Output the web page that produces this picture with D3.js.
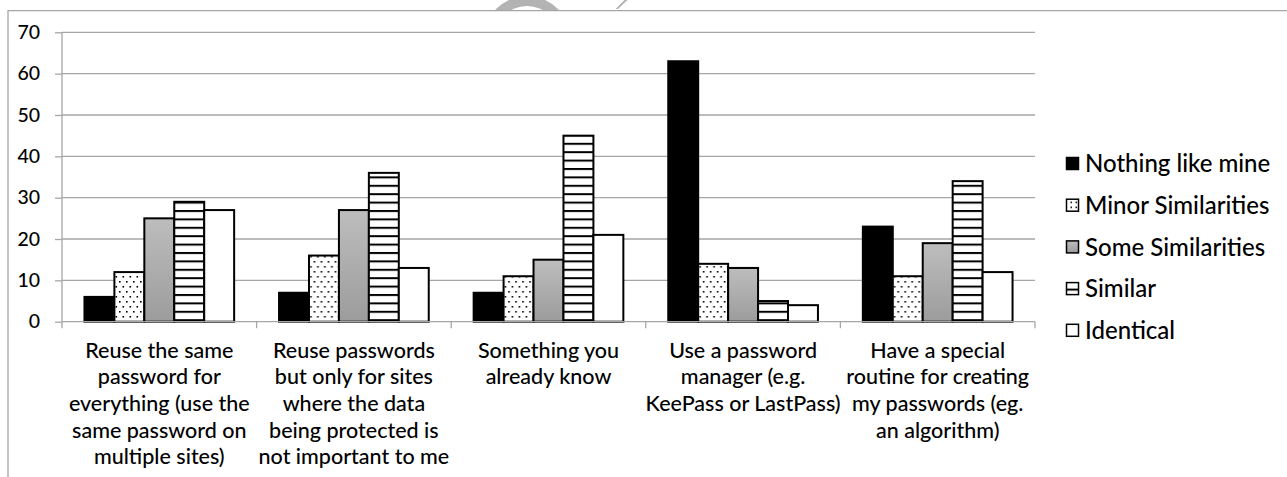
<!DOCTYPE html>
<html>
<head>
<meta charset="utf-8">
<script src="https://cdn.jsdelivr.net/npm/d3@7"></script>
<style>
  html, body { margin: 0; padding: 0; background: #fff; }
  svg { display: block; }
  text { font-family: Lato, "Open Sans", sans-serif; font-weight: 500; fill: #000; }
</style>
</head>
<body>
<svg id="chart" width="1287" height="477"></svg>
<script>
// Survey answers grouped by password strategy
const categories = [
  "Reuse the same password for everything (use the same password on multiple sites)",
  "Reuse passwords but only for sites where the data being protected is not important to me",
  "Something you already know",
  "Use a password manager (e.g. KeePass or LastPass)",
  "Have a special routine for creating my passwords (eg. an algorithm)"
];
// Wrapped lines for each category label
const categoryLines = [
  ["Reuse the same", "password for", "everything (use the", "same password on", "multiple sites)"],
  ["Reuse passwords", "but only for sites", "where the data", "being protected is", "not important to me"],
  ["Something you", "already know"],
  ["Use a password", "manager (e.g.", "KeePass or LastPass)"],
  ["Have a special", "routine for creating", "my passwords (eg.", "an algorithm)"]
];
const seriesNames = ["Nothing like mine", "Minor Similarities", "Some Similarities", "Similar", "Identical"];
const nothingLikeMine   = [6, 7, 7, 63, 23];
const minorSimilarities = [12, 16, 11, 14, 11];
const someSimilarities  = [25, 27, 15, 13, 19];
const similar           = [29, 36, 45, 5, 34];
const identical         = [27, 13, 21, 4, 12];
const yTicks = [0, 10, 20, 30, 40, 50, 60, 70];

const seriesValues = [nothingLikeMine, minorSimilarities, someSimilarities, similar, identical];

const svg = d3.select("#chart");
const defs = svg.append("defs");

// Fill styles: solid black, dotted, grey gradient, horizontal stripes, white
const dots = defs.append("pattern").attr("id", "dots")
  .attr("patternUnits", "userSpaceOnUse").attr("width", 7).attr("height", 10);
dots.append("rect").attr("width", 7).attr("height", 10).attr("fill", "#fff");
dots.append("rect").attr("x", 1).attr("y", 1).attr("width", 1.6).attr("height", 1.6).attr("fill", "#000");
dots.append("rect").attr("x", 4.5).attr("y", 6).attr("width", 1.6).attr("height", 1.6).attr("fill", "#000");

const stripes = defs.append("pattern").attr("id", "stripes")
  .attr("patternUnits", "userSpaceOnUse").attr("width", 10).attr("height", 8.4);
stripes.append("rect").attr("width", 10).attr("height", 8.4).attr("fill", "#fff");
stripes.append("rect").attr("y", 0).attr("width", 10).attr("height", 2).attr("fill", "#000");

const grad = defs.append("linearGradient").attr("id", "greyGrad")
  .attr("x1", 0).attr("y1", 0).attr("x2", 0).attr("y2", 1);
grad.append("stop").attr("offset", "0%").attr("stop-color", "#bdbdbd");
grad.append("stop").attr("offset", "100%").attr("stop-color", "#9c9c9c");

const legendDots = defs.append("pattern").attr("id", "legendDots")
  .attr("patternUnits", "userSpaceOnUse").attr("width", 5).attr("height", 5)
  .attr("x", 1068).attr("y", 0);
legendDots.append("rect").attr("width", 5).attr("height", 5).attr("fill", "#fff");
legendDots.append("rect").attr("x", 1.5).attr("y", 1.5).attr("width", 1.5).attr("height", 1.5).attr("fill", "#000");

const fills = ["#000", "url(#dots)", "url(#greyGrad)", "url(#stripes)", "#fff"];
const legendFills = ["#000", "url(#legendDots)", "url(#greyGrad)", "url(#stripes)", "#fff"];

// Partial logo mark peeking above the frame
const markClip = defs.append("clipPath").attr("id", "markClip");
markClip.append("rect").attr("x", 0).attr("y", 0).attr("width", 1287).attr("height", 10.5);
const mark = svg.append("g").attr("clip-path", "url(#markClip)").attr("fill", "#b3b3b3");
mark.append("path")
  .attr("fill-rule", "evenodd")
  .attr("d", d3.arc()({ innerRadius: 0, outerRadius: 43, startAngle: 0, endAngle: 2 * Math.PI }) +
             d3.arc()({ innerRadius: 0, outerRadius: 33, startAngle: 0, endAngle: 2 * Math.PI }))
  .attr("transform", "translate(527,39)");
mark.append("polygon").attr("points", "615.5,9 618,9 627.5,0 624.5,0");

// Frame of the chart area
svg.append("path")
  .attr("d", "M8,477 L8,10.7 L1287,10.7")
  .attr("fill", "none").attr("stroke", "#a6a6a6").attr("stroke-width", 1.3);

// Scales
const plotLeft = 62, plotRight = 1035, plotTop = 32.3, plotBottom = 321.7;
const x0 = d3.scaleBand().domain(categories).range([plotLeft, plotRight]).paddingInner(0).paddingOuter(0);
const x1 = d3.scaleBand().domain(seriesNames).range([0, x0.bandwidth()]).paddingInner(0).paddingOuter(0.75);
const y = d3.scaleLinear().domain([0, 70]).range([plotBottom, plotTop]);

// Gridlines
svg.append("g").selectAll("line").data(yTicks.filter(d => d > 0)).join("line")
  .attr("x1", plotLeft).attr("x2", plotRight)
  .attr("y1", d => y(d)).attr("y2", d => y(d))
  .attr("stroke", "#a6a6a6").attr("stroke-width", 1.3);

// Y axis
const yAxis = svg.append("g").attr("transform", `translate(${plotLeft},0)`)
  .call(d3.axisLeft(y).tickValues(yTicks).tickSize(7).tickPadding(15).tickSizeOuter(0));
yAxis.select(".domain").remove();
yAxis.selectAll(".tick line").attr("stroke", "#a6a6a6").attr("stroke-width", 1.3);
yAxis.selectAll(".tick text").style("font-family", "Lato").style("font-weight", 500)
  .style("font-size", "19.5px").attr("fill", "#000");
svg.append("line").attr("x1", plotLeft).attr("x2", plotLeft)
  .attr("y1", plotTop).attr("y2", plotBottom + 6.5)
  .attr("stroke", "#a6a6a6").attr("stroke-width", 1.3);

// Bars
const groups = svg.append("g").selectAll("g").data(categories).join("g")
  .attr("transform", d => `translate(${x0(d)},0)`);
groups.selectAll("rect")
  .data((c, ci) => seriesNames.map((s, si) => ({ s, si, v: seriesValues[si][ci] })))
  .join("rect")
  .attr("x", d => x1(d.s))
  .attr("width", x1.bandwidth())
  .attr("y", d => y(d.v))
  .attr("height", d => y(0) - y(d.v))
  .attr("fill", d => fills[d.si])
  .attr("stroke", "#000").attr("stroke-width", 2);

// X axis line and category separators
const xAxisG = svg.append("g");
xAxisG.append("line").attr("x1", plotLeft).attr("x2", plotRight)
  .attr("y1", plotBottom).attr("y2", plotBottom)
  .attr("stroke", "#a6a6a6").attr("stroke-width", 1.3);
const boundaries = categories.map(c => x0(c)).concat([x0(categories[categories.length - 1]) + x0.step()]);
xAxisG.selectAll("line.sep").data(boundaries.slice(1)).join("line").attr("class", "sep")
  .attr("x1", d => d).attr("x2", d => d)
  .attr("y1", plotBottom).attr("y2", plotBottom + 6.5)
  .attr("stroke", "#a6a6a6").attr("stroke-width", 1.3);

// Category labels
const lineHeight = 26.7;
const labels = svg.append("g").selectAll("text").data(categories).join("text")
  .attr("text-anchor", "middle")
  .style("font-size", "21.5px");
labels.each(function (c, i) {
  const t = d3.select(this);
  const cx = x0(c) + x0.bandwidth() / 2;
  categoryLines[i].forEach((ln, k) => {
    t.append("tspan").attr("x", cx).attr("y", 350 + k * lineHeight).attr("dy", "0.35em").text(ln);
  });
});

// Legend
const legend = svg.append("g").selectAll("g").data(seriesNames).join("g")
  .attr("transform", (d, i) => `translate(1066,${163.5 + i * 41.7})`);
legend.append("rect")
  .attr("x", 0.5).attr("y", -6).attr("width", 12).attr("height", 12)
  .attr("fill", (d, i) => legendFills[i])
  .attr("stroke", "#000").attr("stroke-width", 1.5);
legend.append("text")
  .attr("x", 19).attr("y", 0).attr("dy", "0.36em")
  .style("font-size", "24px")
  .text(d => d);
</script>
</body>
</html>
